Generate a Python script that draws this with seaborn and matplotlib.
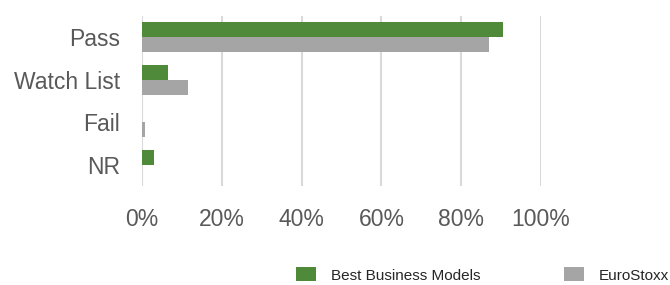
import matplotlib
matplotlib.use("Agg")
import matplotlib.pyplot as plt
import seaborn as sns
import pandas as pd

categories = ["Pass", "Watch List", "Fail", "NR"]
series_names = ["Best Business Models", "EuroStoxx"]
best_business = [90.4, 6.6, 0.0, 3.1]
eurostoxx = [87.0, 11.5, 0.7, 0.0]
x_ticks = [0, 20, 40, 60, 80, 100]
x_tick_labels = ["0%", "20%", "40%", "60%", "80%", "100%"]
colors = ["#4F8A3B", "#A5A5A5"]

df = pd.DataFrame({
    "Category": categories * 2,
    "Series": [series_names[0]] * 4 + [series_names[1]] * 4,
    "Value": best_business + eurostoxx,
})

sns.set_theme(style="white")
plt.rcParams["font.family"] = ["Liberation Sans", "DejaVu Sans"]

fig = plt.figure(figsize=(6.7, 2.85), dpi=100)
ax = fig.add_axes([142 / 670, 1 - 186 / 285, (541 - 142) / 670, 170 / 285])

sns.barplot(data=df, y="Category", x="Value", hue="Series", order=categories,
            hue_order=series_names, palette=colors, orient="h", width=0.7,
            saturation=1, ax=ax, legend=True, edgecolor="none")

ax.set_xlim(0, 100)
ax.set_ylim(3.5, -0.5)
ax.set_xticks(x_ticks)
ax.set_xticklabels(x_tick_labels)
ax.set_xlabel("")
ax.set_ylabel("")
ax.grid(axis="x", color="#D9D9D9", linewidth=1.5)
ax.set_axisbelow(True)
for s in ax.spines.values():
    s.set_visible(False)
ax.tick_params(axis="x", length=0, pad=15.5, labelsize=16.5, labelcolor="#595959")
ax.tick_params(axis="y", length=0, pad=16, labelsize=16.5, labelcolor="#595959")

handles, labels = ax.get_legend_handles_labels()
ax.get_legend().remove()
fig.legend(handles, labels, loc="center left", bbox_to_anchor=(296 / 670, 1 - 275 / 285),
           ncol=2, frameon=False, fontsize=11, borderpad=0, borderaxespad=0,
           handlelength=1.33, handleheight=1.0, handletextpad=0.93,
           columnspacing=5.5, labelcolor="#262626")

fig.savefig("out.png", dpi=100)
